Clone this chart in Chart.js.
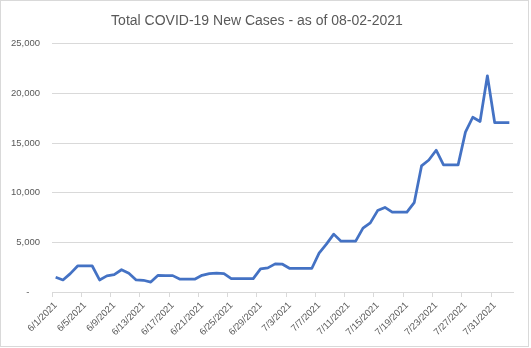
<!DOCTYPE html>
<html lang="en">
<head>
  <meta charset="UTF-8" />
  <title>Total COVID-19 New Cases</title>
  <script src="https://cdn.jsdelivr.net/npm/chart.js"></script>
  <style>
    body {
      margin: 0;
      background-color: #ffffff;
    }
    .frame {
      width: 527px;
      height: 345px;
      border: 1px solid #d9d9d9;
    }
  </style>
</head>
<body>
  <div class="frame">
    <canvas id="casesChart" width="527" height="345"></canvas>
  </div>

  <script>
    const dates = [
      '6/1/2021', '6/2/2021', '6/3/2021', '6/4/2021', '6/5/2021', '6/6/2021', '6/7/2021',
      '6/8/2021', '6/9/2021', '6/10/2021', '6/11/2021', '6/12/2021', '6/13/2021', '6/14/2021',
      '6/15/2021', '6/16/2021', '6/17/2021', '6/18/2021', '6/19/2021', '6/20/2021', '6/21/2021',
      '6/22/2021', '6/23/2021', '6/24/2021', '6/25/2021', '6/26/2021', '6/27/2021', '6/28/2021',
      '6/29/2021', '6/30/2021', '7/1/2021', '7/2/2021', '7/3/2021', '7/4/2021', '7/5/2021',
      '7/6/2021', '7/7/2021', '7/8/2021', '7/9/2021', '7/10/2021', '7/11/2021', '7/12/2021',
      '7/13/2021', '7/14/2021', '7/15/2021', '7/16/2021', '7/17/2021', '7/18/2021', '7/19/2021',
      '7/20/2021', '7/21/2021', '7/22/2021', '7/23/2021', '7/24/2021', '7/25/2021', '7/26/2021',
      '7/27/2021', '7/28/2021', '7/29/2021', '7/30/2021', '7/31/2021', '8/1/2021', '8/2/2021'
    ];

    const newCases = [
      1480, 1210, 1850, 2620, 2620, 2620, 1210,
      1620, 1750, 2240, 1880, 1210, 1180, 1000,
      1680, 1650, 1650, 1290, 1290, 1290, 1680,
      1850, 1910, 1850, 1350, 1350, 1350, 1350,
      2330, 2430, 2830, 2800, 2370, 2370, 2370,
      2370, 3920, 4820, 5830, 5120, 5120, 5120,
      6430, 6960, 8200, 8520, 8040, 8040, 8040,
      9000, 12700, 13300, 14280, 12800, 12800, 12800,
      16100, 17600, 17180, 21780, 17050, 17050, 17050
    ];

    const yTicks = [0, 5000, 10000, 15000, 20000, 25000];
    const labelEvery = 4;

    const grey = '#d9d9d9';
    const textGrey = '#595959';

    const ctx = document.getElementById('casesChart').getContext('2d');
    new Chart(ctx, {
      type: 'line',
      data: {
        labels: dates,
        datasets: [{
          label: 'New Cases',
          data: newCases,
          borderColor: '#4472c4',
          borderWidth: 2.75,
          pointRadius: 0,
          tension: 0,
          borderJoinStyle: 'round',
          fill: false
        }]
      },
      options: {
        responsive: false,
        animation: false,
        layout: {
          padding: { left: 0, right: 15, top: 0, bottom: 0 }
        },
        plugins: {
          legend: { display: false },
          tooltip: { enabled: false },
          title: {
            display: true,
            text: 'Total COVID-19 New Cases - as of 08-02-2021',
            color: textGrey,
            font: { family: 'Liberation Sans', size: 14, weight: 'normal', lineHeight: 1.2 },
            padding: { top: 12, bottom: 14 }
          }
        },
        scales: {
          x: {
            offset: true,
            grid: {
              offset: true,
              drawOnChartArea: false,
              tickLength: 5,
              color: (c) => (c.index % labelEvery === 0 ? grey : 'rgba(0,0,0,0)')
            },
            border: { color: grey },
            ticks: {
              autoSkip: false,
              maxRotation: 45,
              minRotation: 45,
              padding: 3,
              color: textGrey,
              font: { family: 'Liberation Sans', size: 9.5 },
              callback: function (value, index) {
                return index % labelEvery === 0 ? this.getLabelForValue(value) : '';
              }
            },
            afterFit: (scale) => { scale.height = 54; }
          },
          y: {
            min: yTicks[0],
            max: yTicks[yTicks.length - 1],
            grid: { color: grey, drawTicks: false },
            border: { display: false },
            afterBuildTicks: (scale) => { scale.ticks = yTicks.map(v => ({ value: v })); },
            ticks: {
              padding: 12,
              color: textGrey,
              font: { family: 'Liberation Sans', size: 9.5 },
              callback: (v) => (v === 0 ? '-    ' : v.toLocaleString('en-US'))
            },
            afterFit: (scale) => { scale.width = 51; }
          }
        }
      }
    });
  </script>
</body>
</html>
